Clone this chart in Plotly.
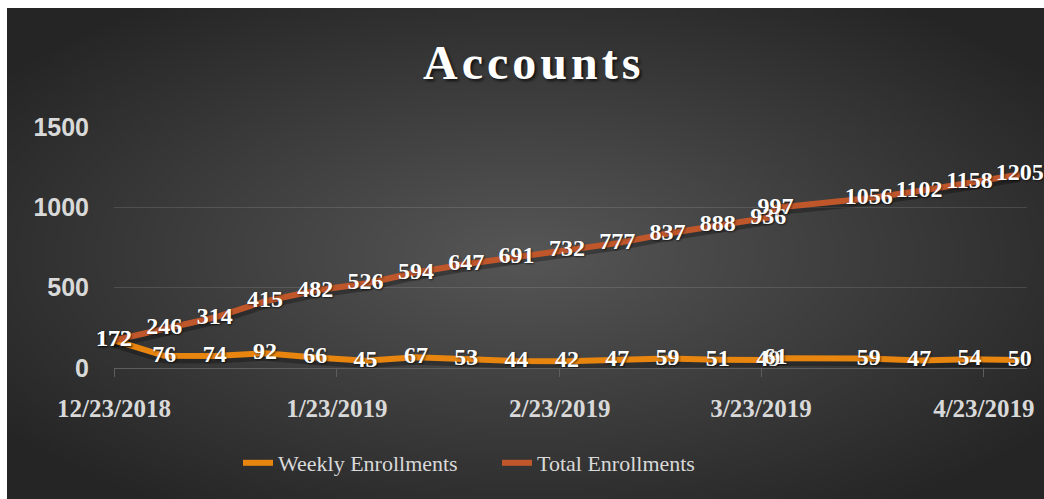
import base64
import struct
import zlib
import math
import plotly.graph_objects as go

# ---- data ----
dates = ["2018-12-23", "2018-12-30", "2019-01-06", "2019-01-13", "2019-01-20",
         "2019-01-27", "2019-02-03", "2019-02-10", "2019-02-17", "2019-02-24",
         "2019-03-03", "2019-03-10", "2019-03-17", "2019-03-24", "2019-03-25",
         "2019-04-07", "2019-04-14", "2019-04-21", "2019-04-28"]
weekly = [172, 76, 74, 92, 66, 45, 67, 53, 44, 42, 47, 59, 51, 49, 61, 59, 47, 54, 50]
total = [172, 246, 314, 415, 482, 526, 594, 647, 691, 732, 777, 837, 888, 936, 997,
         1056, 1102, 1158, 1205]
tick_dates = ["2018-12-23", "2019-01-23", "2019-02-23", "2019-03-23", "2019-04-23"]
tick_text = ["12/23/2018", "1/23/2019", "2/23/2019", "3/23/2019", "4/23/2019"]
y_ticks = [0, 500, 1000, 1500]

W, H = 1044, 499
Y_MAX = 1500
PLOT_TOP, PLOT_BOTTOM = 127, 368


# ---- background radial gradient image ----
def gradient_png(w, h):
    rows = []
    cx, cy = (w - 1) / 2, (h - 1) / 2
    for j in range(h):
        row = bytearray()
        for i in range(w):
            dx = (i - cx) / (w / 2)
            dy = (j - cy) / (h / 2)
            r = min(1.0, math.sqrt(dx * dx + dy * dy) / 1.25)
            c = int(round(86 - (86 - 37) * r))
            row += bytes((c, c, c))
        rows.append(b"\x00" + bytes(row))
    raw = b"".join(rows)

    def chunk(tag, data):
        return (struct.pack(">I", len(data)) + tag + data +
                struct.pack(">I", zlib.crc32(tag + data) & 0xFFFFFFFF))

    png = (b"\x89PNG\r\n\x1a\n" +
           chunk(b"IHDR", struct.pack(">IIBBBBB", w, h, 8, 2, 0, 0, 0)) +
           chunk(b"IDAT", zlib.compress(raw, 9)) + chunk(b"IEND", b""))
    return "data:image/png;base64," + base64.b64encode(png).decode()


bg = gradient_png(260, 123)

orange = "#E8850F"
rust = "#C0572B"
label_font = dict(family="Liberation Serif", size=24, color="white", weight="bold",
                  shadow="1px 1px 2px rgba(0,0,0,0.6)")

# soft drop shadow under the lines (3px down)
shadow_dy = 3 * Y_MAX / (PLOT_BOTTOM - PLOT_TOP)

fig = go.Figure()
for series in (weekly, total):
    fig.add_trace(go.Scatter(
        x=dates, y=[v - shadow_dy for v in series], mode="lines",
        line=dict(color="rgba(0,0,0,0.28)", width=9), showlegend=False,
        hoverinfo="skip"))
fig.add_trace(go.Scatter(
    x=dates, y=weekly, name="Weekly Enrollments", mode="lines+text",
    line=dict(color=orange, width=6), text=[str(v) for v in weekly],
    textposition="middle center", textfont=label_font, cliponaxis=False))
fig.add_trace(go.Scatter(
    x=dates, y=total, name="Total Enrollments", mode="lines+text",
    line=dict(color=rust, width=6), text=[str(v) for v in total],
    textposition="middle center", textfont=label_font, cliponaxis=False))

fig.update_layout(
    width=W, height=H,
    margin=dict(l=0, r=0, t=0, b=0, autoexpand=False),
    paper_bgcolor="white",
    plot_bgcolor="rgba(0,0,0,0)",
    showlegend=True,
    legend=dict(orientation="h", x=238 / W, xanchor="left", y=1 - 463 / H,
                yanchor="middle", entrywidth=214, entrywidthmode="pixels",
                font=dict(family="Liberation Serif", size=22, color="#d9d9d9"),
                bgcolor="rgba(0,0,0,0)"),
    images=[dict(source=bg, xref="paper", yref="paper", x=7 / W, y=1 - 8 / H,
                 sizex=1 - 7 / W, sizey=1 - 8 / H, xanchor="left", yanchor="top",
                 sizing="stretch", layer="below")],
    annotations=[dict(text="A\u200ac\u200ac\u200ao\u200au\u200an\u200at\u200as",
                      xref="paper", yref="paper", x=531 / W, y=1 - 62 / H,
                      xanchor="center", yanchor="middle", showarrow=False,
                      font=dict(family="Liberation Serif", size=48, color="white",
                                weight="bold",
                                shadow="2px 2px 3px rgba(0,0,0,0.7)"))],
    xaxis=dict(type="date", domain=[114 / W, 1027 / W], automargin=False,
               range=["2018-12-23", "2019-04-29"],
               tickvals=tick_dates, ticktext=tick_text,
               ticks="outside", ticklen=8, tickcolor="#5e5e5e", tickwidth=1,
               showline=True, linecolor="#5e5e5e", linewidth=1,
               showgrid=False, zeroline=False, ticklabelstandoff=10,
               tickfont=dict(family="Liberation Serif", size=25, color="#d9d9d9",
                             weight="bold")),
    yaxis=dict(domain=[1 - PLOT_BOTTOM / H, 1 - PLOT_TOP / H], range=[0, Y_MAX],
               automargin=False,
               tickvals=y_ticks, ticks="", showgrid=True,
               gridcolor="rgba(255,255,255,0.12)", gridwidth=1,
               zeroline=False, showline=False, ticklabelstandoff=24,
               tickfont=dict(family="Liberation Sans", size=25, color="#d9d9d9",
                             weight="bold")),
)

fig.write_html("out.html")
